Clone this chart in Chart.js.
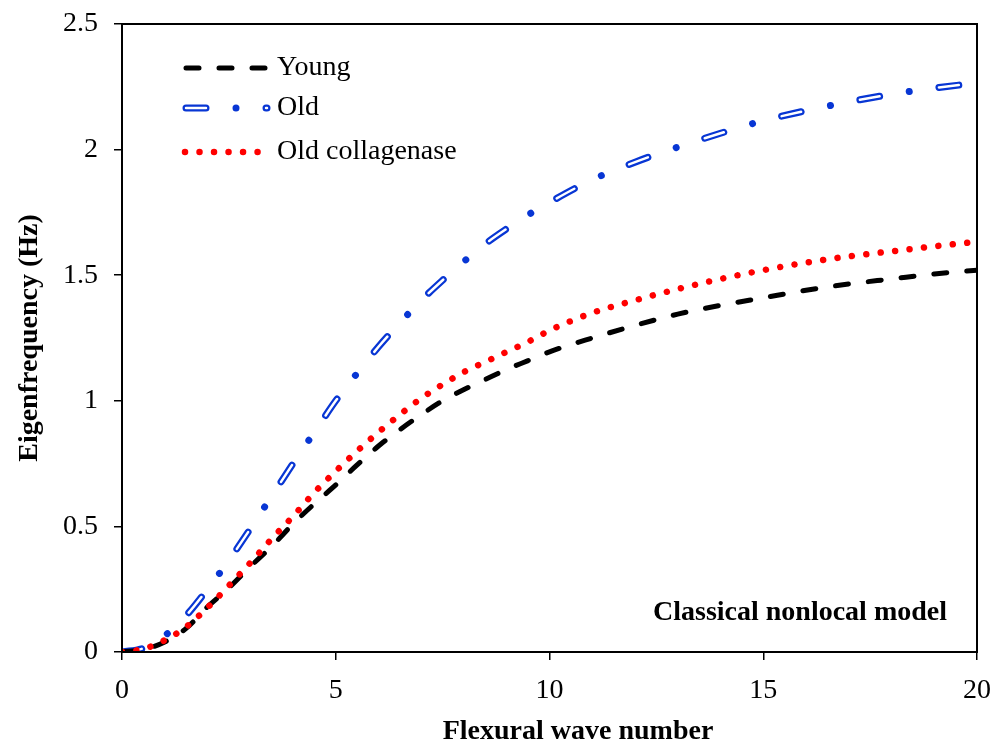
<!DOCTYPE html>
<html>
<head>
<meta charset="utf-8">
<script src="https://cdn.jsdelivr.net/npm/chart.js@4.4.1/dist/chart.umd.min.js"></script>
<style>
  html, body { margin: 0; padding: 0; background: #fff; }
  #wrap { width: 1003px; height: 751px; }
</style>
</head>
<body>
<div id="wrap"><canvas id="chart" width="1003" height="751"></canvas></div>
<script>
// values
const waveNumber = [0, 0.5, 1, 1.5, 2, 2.5, 3, 3.5, 4, 4.5, 5, 5.5, 6, 6.5, 7, 7.5, 8, 8.5, 9, 9.5, 10,
                    11, 12, 13, 14, 15, 16, 17, 18, 19, 20];
const youngFreq = [0, 0.01, 0.04, 0.094, 0.18, 0.255, 0.34, 0.42, 0.51, 0.59, 0.665, 0.745, 0.82, 0.885, 0.945, 1.0,
                   1.045, 1.085, 1.125, 1.16, 1.195, 1.25, 1.3, 1.345, 1.38, 1.41, 1.44, 1.465, 1.485, 1.505, 1.52];
const oldFreq = [0, 0.015, 0.065, 0.145, 0.25, 0.365, 0.49, 0.62, 0.75, 0.875, 1.0, 1.11, 1.215, 1.31, 1.4, 1.48,
                 1.555, 1.625, 1.685, 1.74, 1.79, 1.88, 1.95, 2.01, 2.065, 2.115, 2.155, 2.19, 2.22, 2.245, 2.265];
const oldCollagenaseFreq = [0, 0.012, 0.047, 0.1, 0.177, 0.264, 0.355, 0.45, 0.54, 0.635, 0.72, 0.8, 0.875, 0.945,
                            1.01, 1.065, 1.115, 1.155, 1.195, 1.235, 1.28, 1.35, 1.4, 1.445, 1.485, 1.52, 1.55,
                            1.575, 1.595, 1.615, 1.633];
const xTicks = [0, 5, 10, 15, 20];
const yTicks = [0, 0.5, 1, 1.5, 2, 2.5];
const legendLabels = ['Young', 'Old', 'Old collagenase'];

const FONT = "'Liberation Serif', 'Times New Roman', serif";
const FS = 28;
const BLUE = '#0836D4';
const RED = '#FF0000';

// line styles shared by the plot and the hand-drawn legend
const styles = {
  young: { color: '#000', width: 5, dash: [13, 20], cap: 'round' },
  oldOuter: { color: BLUE, width: 7, dash: [20, 30, 0.01, 30], cap: 'round' },
  oldInner: { color: '#fff', width: 2.5, dash: [20, 60.01], cap: 'round' },
  coll: { color: RED, width: 6.5, dash: [0.01, 14.5], cap: 'round' }
};

const toPoints = ys => waveNumber.map((x, i) => ({ x: x, y: ys[i] }));

function lineSet(label, ys, st, order) {
  return {
    label: label,
    data: toPoints(ys),
    borderColor: st.color,
    borderWidth: st.width,
    borderDash: st.dash,
    borderCapStyle: st.cap,
    pointRadius: 0,
    cubicInterpolationMode: 'monotone',
    fill: false,
    order: order
  };
}

function strokeSample(ctx, st, x0, x1, y) {
  ctx.save();
  ctx.strokeStyle = st.color;
  ctx.lineWidth = st.width;
  ctx.lineCap = st.cap;
  ctx.setLineDash(st.dash);
  ctx.beginPath();
  ctx.moveTo(x0, y);
  ctx.lineTo(x1, y);
  ctx.stroke();
  ctx.restore();
}

// frame, legend, note and x title
const decorPlugin = {
  id: 'decor',
  afterDraw(chart) {
    const ctx = chart.ctx;
    const a = chart.chartArea;
    ctx.save();
    ctx.strokeStyle = '#000';
    ctx.lineWidth = 2;
    ctx.strokeRect(a.left, a.top, a.right - a.left, a.bottom - a.top);

    // legend
    strokeSample(ctx, styles.young, 186, 266, 68);
    strokeSample(ctx, styles.oldOuter, 186, 267, 108);
    strokeSample(ctx, styles.oldInner, 186, 267, 108);
    strokeSample(ctx, styles.coll, 185, 258.1, 152);
    ctx.fillStyle = '#000';
    ctx.font = FS + 'px ' + FONT;
    ctx.textAlign = 'left';
    ctx.textBaseline = 'middle';
    ctx.fillText(legendLabels[0], 277, 68);
    ctx.fillText(legendLabels[1], 277, 108);
    ctx.fillText(legendLabels[2], 277, 152);

    // note inside plot
    ctx.font = 'bold ' + FS + 'px ' + FONT;
    ctx.textAlign = 'right';
    ctx.fillText('Classical nonlocal model', 947, 613);

    // x axis title
    ctx.textAlign = 'center';
    ctx.fillText('Flexural wave number', 578, 732);
    ctx.restore();
  }
};

new Chart(document.getElementById('chart'), {
  type: 'line',
  data: {
    datasets: [
      lineSet(legendLabels[2], oldCollagenaseFreq, styles.coll, 0),
      lineSet(legendLabels[0], youngFreq, styles.young, 1),
      lineSet(legendLabels[1] + ' inner', oldFreq, styles.oldInner, 2),
      lineSet(legendLabels[1], oldFreq, styles.oldOuter, 3)
    ]
  },
  options: {
    responsive: false,
    animation: false,
    layout: { padding: { top: 24, right: 26, left: 0, bottom: 0 } },
    plugins: {
      legend: { display: false },
      tooltip: { enabled: false }
    },
    scales: {
      x: {
        type: 'linear',
        min: 0,
        max: 20,
        afterBuildTicks: s => { s.ticks = xTicks.map(v => ({ value: v })); },
        afterFit: s => { s.height = 99; s.paddingLeft = 0; s.paddingRight = 0; },
        grid: { drawOnChartArea: false, drawTicks: true, tickLength: 8, color: '#000', lineWidth: 1.5 },
        border: { display: true, color: '#000', width: 2 },
        ticks: { color: '#000', font: { family: FONT, size: FS }, padding: 14, maxRotation: 0 }
      },
      y: {
        type: 'linear',
        min: 0,
        max: 2.5,
        afterBuildTicks: s => { s.ticks = yTicks.map(v => ({ value: v })); },
        afterFit: s => { s.width = 122; s.paddingTop = 0; s.paddingBottom = 0; },
        grid: { drawOnChartArea: false, drawTicks: true, tickLength: 8, color: '#000', lineWidth: 1.5 },
        border: { display: true, color: '#000', width: 2 },
        ticks: {
          color: '#000',
          font: { family: FONT, size: FS },
          padding: 16,
          callback: v => String(v)
        },
        title: {
          display: true,
          text: 'Eigenfrequency (Hz)',
          color: '#000',
          font: { family: FONT, size: FS, weight: 'bold' },
          padding: { top: 13, bottom: 0 }
        }
      }
    }
  },
  plugins: [decorPlugin]
});
</script>
</body>
</html>
